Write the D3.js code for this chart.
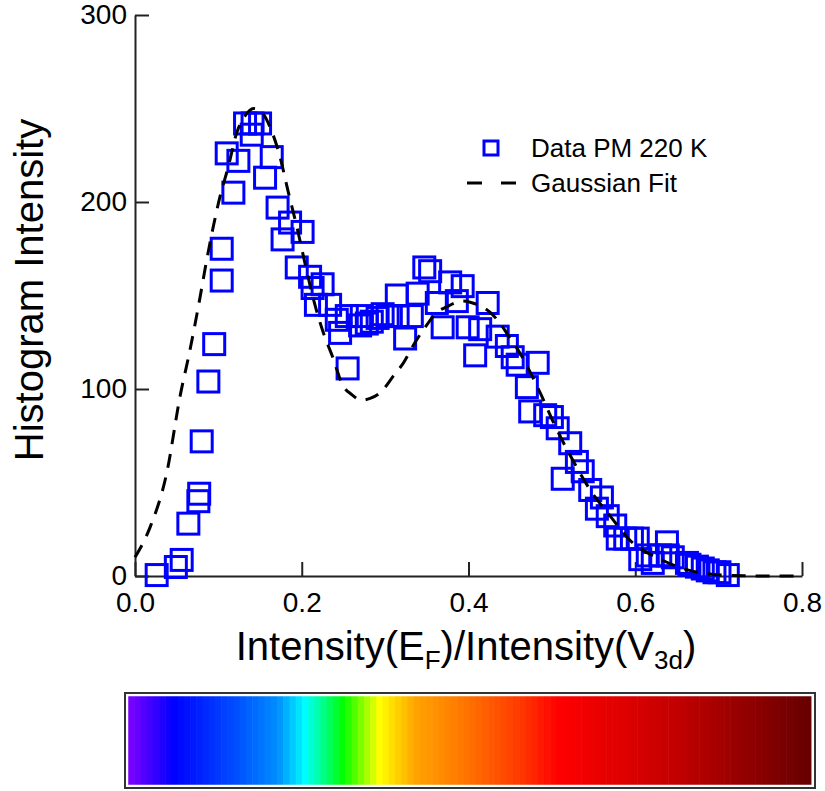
<!DOCTYPE html>
<html>
<head>
<meta charset="utf-8">
<script src="https://cdn.jsdelivr.net/npm/d3@7"></script>
<style>
  html, body { margin: 0; padding: 0; background: #fff; }
  svg { display: block; font-family: "Liberation Sans", Arial, Helvetica, sans-serif; }
</style>
</head>
<body>
<svg id="chart" width="825" height="791"></svg>
<script>
/* ── Histogram of intensity ratio, data + two-peak Gaussian fit ── */

// Measured histogram (Data PM 220 K)
const dataX = [0.026, 0.049, 0.056, 0.064, 0.076, 0.077, 0.080, 0.088, 0.095, 0.104,
  0.104, 0.118, 0.110, 0.124, 0.132, 0.141, 0.150, 0.140, 0.164, 0.156,
  0.171, 0.186, 0.177, 0.201, 0.194, 0.210, 0.225, 0.213, 0.217, 0.234,
  0.242, 0.246, 0.255, 0.254, 0.270, 0.272, 0.278, 0.284, 0.291, 0.297,
  0.303, 0.314, 0.315, 0.324, 0.332, 0.339, 0.347, 0.354, 0.362, 0.369,
  0.378, 0.386, 0.393, 0.399, 0.408, 0.414, 0.423, 0.435, 0.446, 0.453,
  0.459, 0.483, 0.470, 0.474, 0.492, 0.500, 0.507, 0.522, 0.530, 0.513,
  0.537, 0.546, 0.560, 0.554, 0.567, 0.576, 0.579, 0.588, 0.596, 0.603,
  0.606, 0.615, 0.621, 0.638, 0.630, 0.639, 0.645, 0.662, 0.665, 0.674,
  0.681, 0.687, 0.695, 0.701, 0.711];
const dataY = [0.5, 4.8, 8.6, 28, 40, 44, 72, 104, 124, 158,
  175, 205, 226, 222, 242, 242, 242, 236, 224, 213,
  197, 189, 180, 184, 165, 160, 156, 154, 145, 145,
  137, 130, 111, 139, 134, 139, 135, 136, 138, 140,
  139, 150, 139, 127, 139, 151, 165, 163, 146, 133,
  157, 147, 155, 133, 118, 132, 146, 128, 123, 117,
  113, 114, 101, 88, 86, 85, 79, 71, 61, 52,
  56, 46, 42, 36, 32, 27, 20, 20, 20, 20,
  9, 11, 7, 18, 11, 11, 10, 7, 6, 5,
  4, 3, 2, 2, 0.5];

// Gaussian fit curve
const fitX = [0, 0.018, 0.038, 0.054, 0.066, 0.078, 0.086, 0.094, 0.102, 0.112,
  0.122, 0.132, 0.142, 0.152, 0.162, 0.174, 0.184, 0.194, 0.204, 0.214,
  0.226, 0.238, 0.248, 0.26, 0.272, 0.282, 0.294, 0.31, 0.322, 0.336,
  0.348, 0.362, 0.374, 0.393, 0.405, 0.426, 0.438, 0.45, 0.462, 0.474,
  0.488, 0.501, 0.525, 0.546, 0.57, 0.594, 0.63, 0.665, 0.705, 0.75, 0.8];
const fitY = [10, 26, 55, 96, 121, 149, 169, 187, 203, 219,
  237, 246, 250, 248, 240, 224, 205, 187, 167, 148,
  130, 116, 103, 97, 94, 95, 98, 107, 114, 125,
  133, 141, 144, 147, 146, 141, 135, 127, 119, 109,
  96, 83, 62, 46, 32, 19, 9, 3, 0.5, 0, 0];

const xTicks = [0, 0.2, 0.4, 0.6, 0.8];
const yTicks = [0, 100, 200, 300];
const legendLabels = ['Data PM 220 K', 'Gaussian Fit'];

// Colour bar stops (position along bar, colour)
const barStops = [0, 0.066, 0.16, 0.22, 0.26, 0.315, 0.368, 0.42, 0.5, 0.57, 0.63, 0.8, 1];
const barColours = ['#8000ff', '#0000ff', '#0050ff', '#0090ff', '#00ffff', '#00ff00',
  '#ffff00', '#ffa500', '#ff7000', '#ff3c00', '#ff0000', '#c40000', '#660000'];

const svg = d3.select('#chart');
const blue = '#0000ff';

const x = d3.scaleLinear().domain([0, 0.8]).range([135, 802]);
const y = d3.scaleLinear().domain([0, 300]).range([576, 15]);

// Axes – inward ticks, no frame
const xAxis = svg.append('g').attr('transform', 'translate(0,576)')
  .call(d3.axisBottom(x).tickValues(xTicks).tickFormat(d3.format('.1f'))
    .tickSizeInner(-14).tickSizeOuter(0).tickPadding(16));
const yAxis = svg.append('g').attr('transform', 'translate(135,0)')
  .call(d3.axisLeft(y).tickValues(yTicks).tickFormat(d3.format('d'))
    .tickSizeInner(-14).tickSizeOuter(0).tickPadding(8));

[xAxis, yAxis].forEach(a => {
  a.select('.domain').attr('stroke', '#222').attr('stroke-width', 2);
  a.selectAll('.tick line').attr('stroke', '#222').attr('stroke-width', 2);
  a.selectAll('.tick text').attr('font-size', 28).attr('fill', '#000')
    .attr('font-family', '"Liberation Sans", Arial, sans-serif');
});

// Data squares
const pts = dataX.map((d, i) => ({ x: d, y: dataY[i] }));
const sq = 21;
svg.append('g').selectAll('rect').data(pts).enter().append('rect')
  .attr('x', d => x(d.x) - sq / 2).attr('y', d => y(d.y) - sq / 2)
  .attr('width', sq).attr('height', sq)
  .attr('fill', 'none').attr('stroke', blue).attr('stroke-width', 3);

// Fit curve on top
const fit = fitX.map((d, i) => [d, fitY[i]]);
svg.append('path').datum(fit)
  .attr('d', d3.line().x(d => x(d[0])).y(d => y(d[1])).curve(d3.curveMonotoneX))
  .attr('fill', 'none').attr('stroke', '#000').attr('stroke-width', 3)
  .attr('stroke-dasharray', '14 10');

// Legend
const lg = svg.append('g');
lg.append('rect').attr('x', 484).attr('y', 141).attr('width', 14).attr('height', 14)
  .attr('fill', 'none').attr('stroke', blue).attr('stroke-width', 3);
lg.append('line').attr('x1', 467).attr('x2', 516).attr('y1', 183).attr('y2', 183)
  .attr('stroke', '#000').attr('stroke-width', 3).attr('stroke-dasharray', '15 19');
lg.selectAll('text').data(legendLabels).enter().append('text')
  .attr('x', 531).attr('y', (d, i) => 157 + i * 35)
  .attr('font-size', 26).text(d => d);

// Axis titles
svg.append('text')
  .attr('transform', 'translate(43,290) rotate(-90)')
  .attr('text-anchor', 'middle').attr('font-size', 40)
  .text('Histogram Intensity');

const xt = svg.append('text').attr('x', 466).attr('y', 660)
  .attr('text-anchor', 'middle').attr('font-size', 40);
xt.append('tspan').text('Intensity(E');
xt.append('tspan').attr('font-size', 26).attr('dy', 9).text('F');
xt.append('tspan').attr('dy', -9).text(')/Intensity(V');
xt.append('tspan').attr('font-size', 26).attr('dy', 9).text('3d');
xt.append('tspan').attr('dy', -9).text(')');

// Colour bar
const bx0 = 128, bx1 = 811, by0 = 696, by1 = 785;
const cScale = d3.scaleLinear().domain(barStops).range(barColours);
const nBands = 110;
const bw = (bx1 - bx0) / nBands;
svg.append('g').selectAll('rect').data(d3.range(nBands)).enter().append('rect')
  .attr('x', i => bx0 + i * bw).attr('y', by0)
  .attr('width', bw + 0.6).attr('height', by1 - by0)
  .attr('fill', i => cScale((i + 0.5) / nBands));
svg.append('rect').attr('x', 125).attr('y', 693).attr('width', 690).attr('height', 95)
  .attr('fill', 'none').attr('stroke', '#333').attr('stroke-width', 2);
svg.append('rect').attr('x', 127.5).attr('y', 695.5).attr('width', 685).attr('height', 90)
  .attr('fill', 'none').attr('stroke', '#fff').attr('stroke-width', 1.5);
</script>
</body>
</html>
